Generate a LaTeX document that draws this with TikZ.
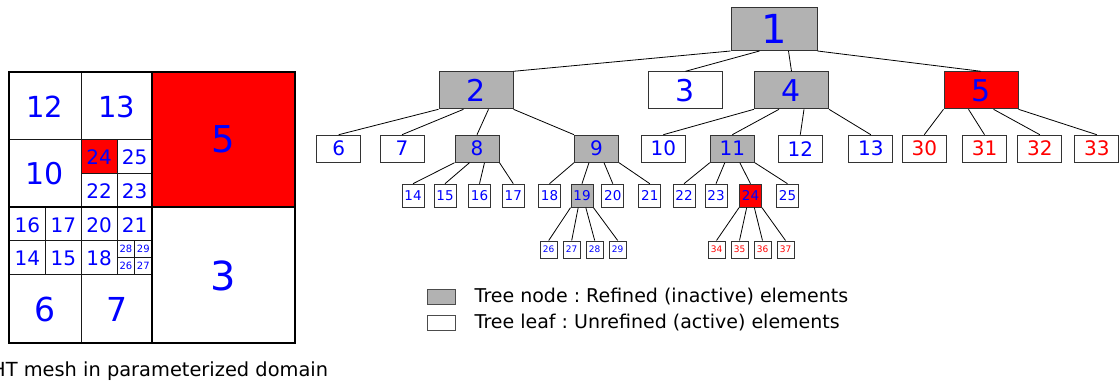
\documentclass[tikz,border=0pt]{standalone}
\usepackage{fontspec}
\setmainfont{DejaVu Sans}
\usetikzlibrary{positioning, calc}

\begin{document}
\begin{tikzpicture}[x=1pt, y=-1pt,
  tnode/.style={draw=black!80, line width=1pt, inner sep=0pt, text=blue},
  lvzero/.style={tnode, minimum width=86pt, minimum height=43pt, font=\fontsize{40}{40}\selectfont},
  lvone/.style={tnode, minimum width=74pt, minimum height=37pt, font=\fontsize{30}{30}\selectfont},
  lvtwo/.style={tnode, minimum width=44pt, minimum height=27pt, font=\fontsize{20}{20}\selectfont},
  lvthree/.style={tnode, minimum width=22pt, minimum height=23pt, font=\fontsize{13.5}{13.5}\selectfont},
  lvfour/.style={tnode, minimum width=17pt, minimum height=17pt, font=\fontsize{9}{9}\selectfont},
  refined/.style={fill=black!30},
  marked/.style={fill=red},
  redtxt/.style={text=red},
  edge/.style={line width=0.8pt},
  meshbold/.style={line width=2pt},
  meshthin/.style={line width=1pt, draw=black!90},
  mlabel/.style={text=blue, inner sep=0pt},
  legbox/.style={draw=black!70, line width=1pt, minimum width=28pt, minimum height=15pt, inner sep=0pt},
  legtext/.style={font=\fontsize{19}{19}\selectfont\frenchspacing, inner sep=0pt}]

  \useasboundingbox (0,0) rectangle (1119,385);

  % mesh in the parameter domain
  \fill[red] (152,72) rectangle (295,206.5);
  \fill[red] (81,139.5) rectangle (117.3,173.3);
  \draw[meshthin] (81,72) -- (81,343) (9,139.5) -- (152,139.5)
    (117.3,139.5) -- (117.3,274.3) (81,173.3) -- (152,173.3)
    (9,274.3) -- (152,274.3) (45.7,206.5) -- (45.7,274.3) (9,240.3) -- (152,240.3)
    (134.7,240.3) -- (134.7,274.3) (117.3,257.3) -- (152,257.3);
  \draw[meshbold] (9,72) rectangle (295,343) (152,72) -- (152,343) (9,206.5) -- (295,206.5);

  \node[mlabel, font=\fontsize{29}{29}\selectfont] (m12) at (45,107) {12};
  \node[mlabel, font=\fontsize{29}{29}\selectfont] (m13) at (116.5,107) {13};
  \node[mlabel, font=\fontsize{30}{30}\selectfont] (m10) at (45,174) {10};
  \node[mlabel, font=\fontsize{37}{37}\selectfont] (m5) at (223.5,139.5) {5};
  \node[mlabel, font=\fontsize{40}{40}\selectfont] (m3) at (223.5,276) {3};
  \node[mlabel, font=\fontsize{33}{33}\selectfont] (m6) at (45,309.5) {6};
  \node[mlabel, font=\fontsize{33}{33}\selectfont] (m7) at (116.5,309.5) {7};
  \foreach \lab/\px/\py in {24/99.2/157.5, 25/134.7/157.5, 22/99.2/191, 23/134.7/191,
      16/27.4/225, 17/63.4/225, 14/27.4/258.5, 15/63.4/258.5,
      20/99.2/225, 21/134.7/225, 18/99.2/258.5}
    \node[mlabel, font=\fontsize{20}{20}\selectfont] (m\lab) at (\px,\py) {\lab};
  \foreach \lab/\px/\py in {28/126/249, 29/143.3/249, 26/126/266, 27/143.3/266}
    \node[mlabel, font=\fontsize{10}{10}\selectfont] (m\lab) at (\px,\py) {\lab};

  \node[anchor=base east, font=\fontsize{19.4}{19.4}\selectfont, inner sep=0pt] (caption) at (328.3,376) {HT mesh in parameterized domain};

  % hierarchical tree
  \node[lvzero, refined] (t1) at (774,29) {1};

  \node[lvone, refined] (t2) at (476,90.3) {2};
  \node[lvone] (t3) at (685.5,90.3) {3};
  \node[lvone, refined] (t4) at (791.5,90.3) {4};
  \node[lvone, marked] (t5) at (981,90.3) {5};

  \node[lvtwo] (t6) at (338.7,148.7) {6};
  \node[lvtwo] (t7) at (402,148.7) {7};
  \node[lvtwo, refined] (t8) at (477,148.7) {8};
  \node[lvtwo, refined] (t9) at (596.5,148.7) {9};
  \node[lvtwo] (t10) at (663.3,148.7) {10};
  \node[lvtwo, refined] (t11) at (732.3,148.7) {11};
  \node[lvtwo] (t12) at (800.3,148.7) {12};
  \node[lvtwo] (t13) at (870.8,148.7) {13};
  \node[lvtwo, redtxt] (t30) at (924.3,148.7) {30};
  \node[lvtwo, redtxt] (t31) at (984.5,148.7) {31};
  \node[lvtwo, redtxt] (t32) at (1039.8,148.7) {32};
  \node[lvtwo, redtxt] (t33) at (1096.8,148.7) {33};

  \foreach \lab/\px in {14/413, 15/445, 16/479.5, 17/513.3, 18/549.5, 20/612.8,
      21/649.8, 22/684, 23/716, 25/787.5}
    \node[lvthree] (t\lab) at (\px,195.7) {\lab};
  \node[lvthree, refined] (t19) at (582,195.7) {19};
  \node[lvthree, marked] (t24) at (750.5,195.7) {24};

  \foreach \lab/\px in {26/548.7, 27/571.7, 28/594.7, 29/617.7}
    \node[lvfour] (t\lab) at (\px,249.5) {\lab};
  \foreach \lab/\px in {34/716.5, 35/739.5, 36/762.5, 37/785.5}
    \node[lvfour, redtxt] (t\lab) at (\px,249.5) {\lab};

  \foreach \up/\kids in {t1/{t2.north east,t3.north,t4.north,t5.north},
      t2/{t6.north,t7.north,t8.north,t9.north west},
      t4/{t10.north,t11.north,t12.north,t13.north},
      t5/{t30.north,t31.north,t32.north,t33.north},
      t8/{t14.north,t15.north,t16.north,t17.north},
      t9/{t18.north,t19.north,t20.north,t21.north},
      t11/{t22.north,t23.north,t24.north,t25.north},
      t19/{t26.north,t27.north,t28.north,t29.north},
      t24/{t34.north,t35.north,t36.north,t37.north}}
    \foreach \kid [count=\i from 0] in \kids
      \draw[edge] ($(\up.south west)!\i/3!(\up.south east)$) -- (\kid);

  % legend
  \node[legbox, refined] (lg-node) at (441,296.7) {};
  \node[legtext, right=19pt of lg-node] (lg-node-txt) {Tree node : Refined (inactive) elements};
  \node[legbox] (lg-leaf) at (441,322.5) {};
  \node[legtext, right=19pt of lg-leaf] (lg-leaf-txt) {Tree leaf : Unrefined (active) elements};

\end{tikzpicture}
\end{document}
